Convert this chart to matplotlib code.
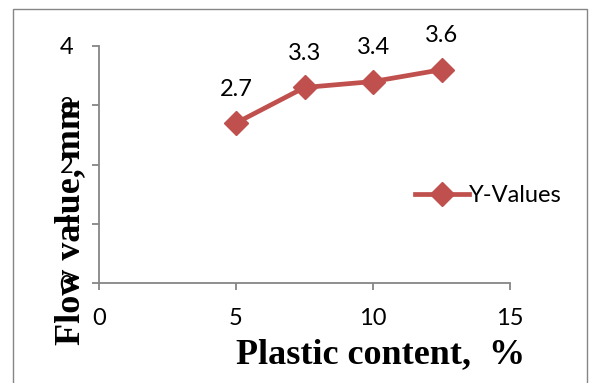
import matplotlib.pyplot as plt
from matplotlib.patches import Rectangle

plastic = [5, 7.5, 10, 12.5]
flow = [2.7, 3.3, 3.4, 3.6]
x_ticks = [0, 5, 10, 15]
y_ticks = [0, 1, 2, 3, 4]

red = '#C0504D'
grey = '#868686'

fig = plt.figure(figsize=(5.92, 3.83), dpi=100)
ax = fig.add_axes([99 / 592, 1 - 283 / 383, 411 / 592, 237 / 383])

# outer chart border
fig.patches.append(Rectangle((13 / 592, -0.05), 574 / 592, 1.05 - 9 / 383,
                             transform=fig.transFigure, fill=False,
                             edgecolor=grey, linewidth=1.0))

ax.plot(plastic, flow, color=red, linewidth=3.4, marker='D', markersize=12,
        label='Y-Values')
for x, y in zip(plastic, flow):
    ax.annotate(f'{y}', (x, y), xytext=(0, 34), textcoords='offset pixels',
                ha='center', va='center', fontsize=17, family='Lato')

ax.set_xlim(0, 15)
ax.set_ylim(0, 4)
ax.set_xticks(x_ticks)
ax.set_yticks(y_ticks)
for side in ('top', 'right'):
    ax.spines[side].set_visible(False)
for side in ('left', 'bottom'):
    ax.spines[side].set_color(grey)
    ax.spines[side].set_linewidth(1.3)
ax.tick_params(direction='out', length=5, width=1.3, color=grey,
               labelsize=17)
ax.tick_params(axis='x', pad=13)
ax.tick_params(axis='y', pad=13.5)
for lbl in ax.get_xticklabels() + ax.get_yticklabels():
    lbl.set_family('Lato')

ax.set_xlabel('Plastic content,  %', fontsize=26, fontweight='bold',
              family='Liberation Serif')
ax.set_ylabel('Flow value, mm', fontsize=26, fontweight='bold',
              family='Liberation Serif')
ax.xaxis.set_label_coords(0.684, -0.232)
ax.yaxis.set_label_coords(-0.03, 0.257)

ax.legend(loc='center left', bbox_to_anchor=(403 / 592, 1 - 196 / 383),
          bbox_transform=fig.transFigure, frameon=False, handlelength=2.3,
          handletextpad=0.0, borderpad=0, prop={'family': 'Lato', 'size': 17})

fig.savefig('out.png', dpi=100)
